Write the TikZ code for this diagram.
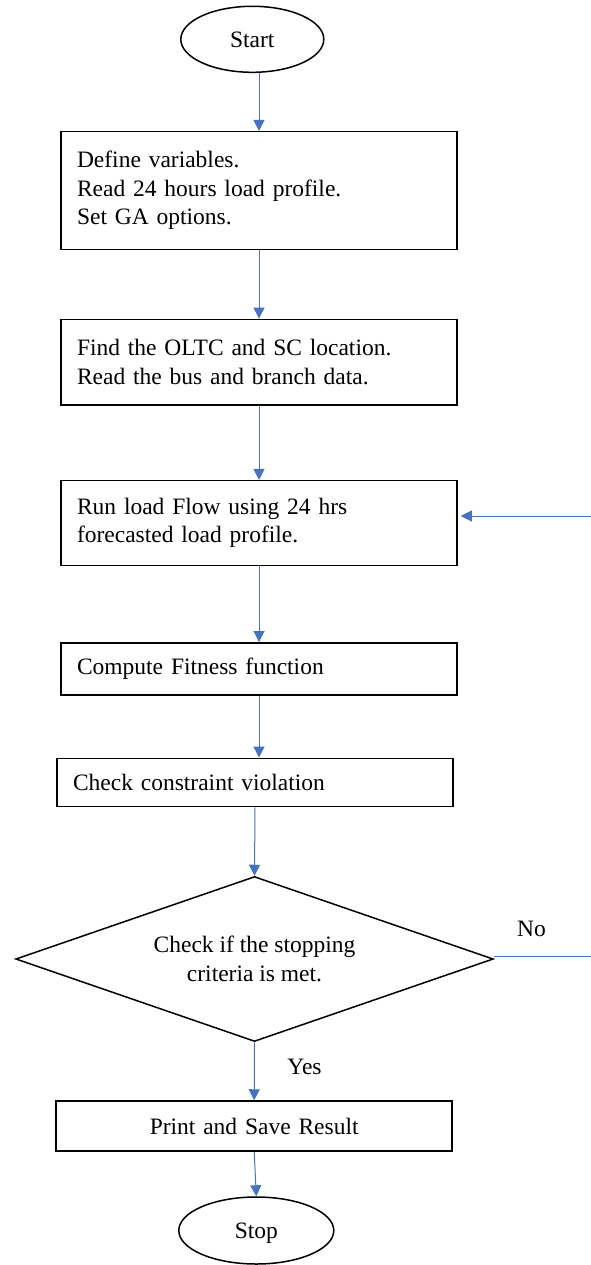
\documentclass[tikz,border=0pt]{standalone}
\usepackage{fontspec}
\setmainfont{Liberation Serif}
\usetikzlibrary{shapes,arrows,arrows.meta,positioning}
\definecolor{flowblue}{HTML}{4472C4}
\tikzset{
  terminal/.style={draw,ellipse,line width=1.5pt,text depth=0pt},
  block/.style={draw,rectangle,line width=1.5pt,inner xsep=16pt,inner ysep=0pt,text width=364pt},
  decision/.style={draw,diamond,line width=1.5pt,inner sep=0pt,aspect=2.9,align=center},
  flow/.style={draw=flowblue,line width=1pt,-{Triangle[length=11pt,width=11pt]}},
  openflow/.style={draw=flowblue,line width=1pt}
}
\begin{document}
\begin{tikzpicture}[x=1pt,y=-1pt,font=\fontsize{23.5}{28.5}\selectfont]
\useasboundingbox (0,0) rectangle (591,1265);
% Start and set-up blocks
\node[terminal,minimum width=143pt,minimum height=66pt] (start) at (252.3,39.3) {Start};
\node[block,align=left,minimum height=117.6pt] (define) at (259,190.5) {Define variables.\\Read 24 hours load profile.\\Set GA options.};
\node[block,align=left,minimum height=85.7pt] (find) at (259,362.2) {Find the OLTC and SC location.\\Read the bus and branch data.};
\node[block,align=left,minimum height=84.6pt] (loadflow) at (259,523) {Run load Flow using 24 hrs\\forecasted load profile.};
% Evaluation blocks
\node[block,align=left,minimum height=52.3pt] (fitness) at (259,668.9) {Compute Fitness function};
\node[block,align=left,minimum height=48.4pt] (check) at (255,782.5) {Check constraint violation};
\node[decision,minimum width=477.6pt,minimum height=165pt] (stopcrit) at (254.5,959) {Check if the stopping\\criteria is met.};
% Result and end
\node[block,align=center,minimum height=50pt] (print) at (254.2,1126) {Print and Save Result};
\node[terminal,minimum width=155pt,minimum height=67pt] (stop) at (256.3,1230.5) {Stop};
\node (yes) at (304.5,1067) {Yes};
\node (no) at (531.5,929) {No};
\coordinate (noend) at (591,956);
\coordinate (back) at (591,516);
% Connectors
\draw[flow] (start.south -| define.north) -- (define.north);
\draw[flow] (define.south) -- (find.north);
\draw[flow] (find.south) -- (loadflow.north);
\draw[flow] (loadflow.south) -- (fitness.north);
\draw[flow] (fitness.south) -- (fitness.south |- check.north);
\draw[flow] (check.south) -- (stopcrit.north);
\draw[flow] (stopcrit.south) -- (print.north);
\draw[flow] (print.south) -- (stop.north);
\draw[openflow] (stopcrit.east |- noend) -- (noend);
\draw[flow,shorten >=3pt] (back) -- (back -| loadflow.east);
\end{tikzpicture}
\end{document}
